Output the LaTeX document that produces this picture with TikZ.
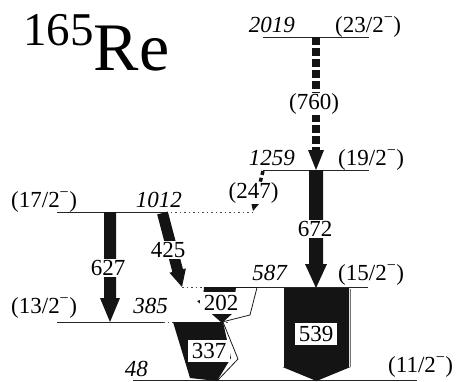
\documentclass[tikz,border=0pt]{standalone}
\usepackage{fontspec}
\setmainfont{Liberation Serif}
\usetikzlibrary{calc}

% wide gamma-ray arrow: start, end, half body width, half head width, head length
\newcommand{\fatarrow}[5]{%
  \coordinate (fa-h) at ($(#2)!#5!(#1)$);
  \fill[gfill] ($(#1)!#3!90:(#2)$) -- ($(fa-h)!#3!90:(#2)$) -- ($(fa-h)!#4!90:(#2)$)
    -- (#2) -- ($(fa-h)!#4!-90:(#2)$) -- ($(fa-h)!#3!-90:(#2)$) -- ($(#1)!#3!-90:(#2)$) -- cycle;}
% arrow head only: base point, tip, half width
\newcommand{\arrowhead}[3]{%
  \fill[gfill] ($(#1)!#3!90:(#2)$) -- (#2) -- ($(#1)!#3!-90:(#2)$) -- cycle;}
\newcommand{\spinlab}[1]{(#1\textsuperscript{−})}

\begin{document}
\begin{tikzpicture}[x=1pt,y=-1pt,
  every node/.style={inner sep=0pt},
  energy/.style={font=\fontsize{23}{23}\selectfont\itshape, anchor=base east},
  spin/.style={font=\fontsize{23}{23}\selectfont, anchor=base west},
  gtext/.style={font=\fontsize{23}{23}\selectfont, fill=white, inner xsep=1.5pt, inner ysep=1pt},
  gbox/.style={gtext, inner xsep=4pt, inner ysep=3pt},
  level/.style={line width=1pt, black!85},
  levelext/.style={line width=0.9pt, black!70, dash pattern=on 1.5pt off 3pt},
  gfill/.style={fill=black!92},
  conv/.style={draw=black!90, line width=0.8pt, line join=miter}
]
\useasboundingbox (0,0) rectangle (458,381);

% nucleus
\node[anchor=base west] (nuc) at (23,70)
  {\raisebox{25pt}{\fontsize{47}{47}\selectfont 165}\fontsize{68}{68}\selectfont Re};

% ---- levels ----
\draw[level] (263,37) -- (369,37);
\draw[level] (263,170) -- (369,170);
\draw[level] (57,212) -- (166,212);
\draw[levelext] (166,212) -- (253,212);
\draw[levelext] (182,287) -- (255,287);
\draw[level] (255,287) -- (368,287);
\draw[level] (57,322) -- (163,322);
\draw[levelext] (163,322) -- (228,322);
\draw[level] (133,380) -- (417,380);

% ---- level labels ----
\node[energy] (e2019) at (295,32) {2019};
\node[spin]   (s2019) at (335,32) {\spinlab{23/2}};
\node[energy] (e1259) at (295,165) {1259};
\node[spin]   (s1259) at (338,165) {\spinlab{19/2}};
\node[spin]   (s1012) at (11,207) {\spinlab{17/2}};
\node[energy] (e1012) at (182,207) {1012};
\node[energy] (e587)  at (287,280) {587};
\node[spin]   (s587)  at (338,280) {\spinlab{15/2}};
\node[spin]   (s385)  at (11,313) {\spinlab{13/2}};
\node[energy] (e385)  at (168,313) {385};
\node[energy] (e48)   at (148,376) {48};
\node[spin]   (s48)   at (388,372) {\spinlab{11/2}};

% ---- transition end points ----
\coordinate (a760) at (316,37);   \coordinate (b760) at (316,170);
\coordinate (a672) at (316,170);  \coordinate (b672) at (316,288);
\coordinate (a247) at (263,171);  \coordinate (b247) at (253,211);
\coordinate (a627) at (110,212);  \coordinate (b627) at (110,322);
\coordinate (a425) at (162.5,213); \coordinate (b425) at (182,287);
\coordinate (a539) at (316.5,288); \coordinate (b539) at (316.5,381);

% (760) tentative, dashed
\coordinate (h760) at ($(b760)!20pt!(a760)$);
\draw[line width=8pt, black!92, dash pattern=on 8pt off 3pt] (a760) -- (h760);
\arrowhead{h760}{b760}{8pt}

% (247) tentative, dashed
\coordinate (h247) at ($(b247)!9pt!(a247)$);
\draw[line width=3.5pt, black!92, dash pattern=on 4pt off 3pt] (a247) -- (h247);
\arrowhead{h247}{b247}{4.5pt}

% stretched transitions
\fatarrow{a672}{b672}{7pt}{11pt}{24pt}
\fatarrow{a627}{b627}{6pt}{10pt}{24pt}
\fatarrow{a425}{b425}{5.5pt}{8.5pt}{17pt}
\fatarrow{a539}{b539}{32.5pt}{34pt}{14pt}
\draw[black!55, line width=0.8pt] (350.5,289) -- (350.5,367);

% 202: gamma part and conversion part
\fill[gfill] (204,287) -- (236,287) -- (233,313) -- (222,323) -- (197,301) -- (203,299) -- cycle;
\draw[conv] (236,287.5) -- (257,287.5) -- (250,315) -- (222,322);

% 337: gamma part and conversion part
\fill[gfill] (173,322) -- (223,322) -- (231,358) -- (217,381) -- (190,378) -- (187,368) -- cycle;
\draw[conv] (223,322) -- (238,359) -- (218,380);

% ---- transition labels ----
\node[gtext] (g760) at (314,104) {(760)};
\node[gtext] (g247) at (253.5,193) {(247)};
\node[gtext] (g672) at (315,229) {672};
\node[gtext] (g627) at (108,268) {627};
\node[gtext] (g425) at (168,250) {425};
\node[gbox]  (g202) at (221,303) {202};
\node[gbox]  (g337) at (209,351) {337};
\node[gbox]  (g539) at (316,334) {539};
\end{tikzpicture}
\end{document}
